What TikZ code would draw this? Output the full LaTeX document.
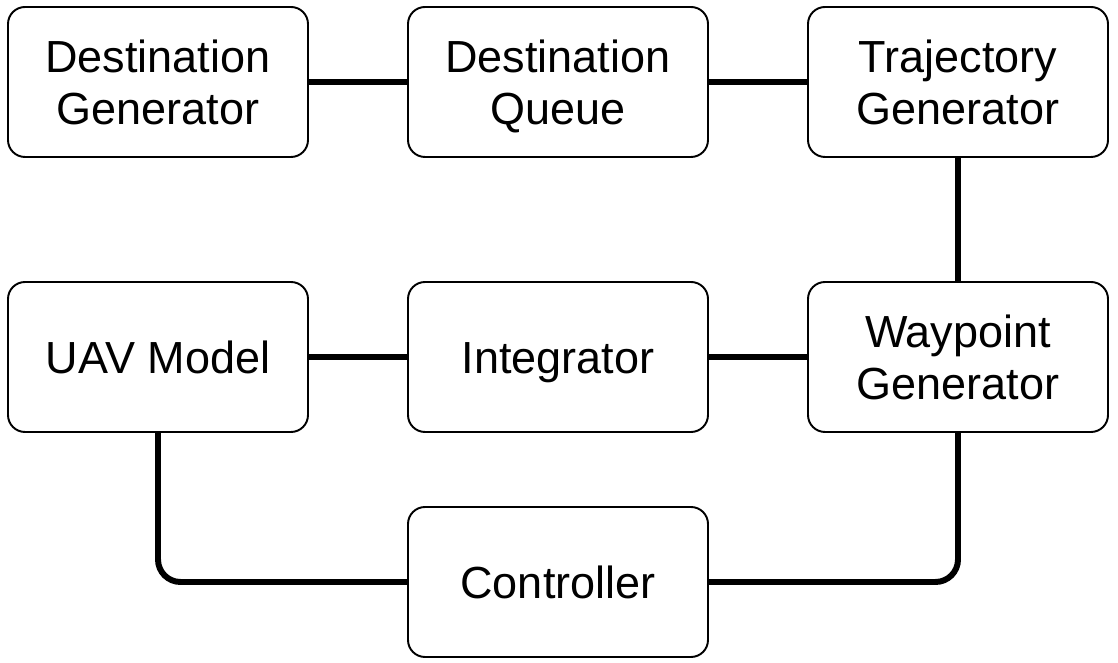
\documentclass[tikz,border=0pt]{standalone}
\usepackage{fontspec}
\setmainfont{Liberation Sans}
\usetikzlibrary{positioning}

\newcommand{\capstrut}{\rule[-5.6pt]{0pt}{29.6pt}}
\newcommand{\twolines}[2]{\capstrut#1\\\capstrut#2}

\tikzset{
  block/.style={draw, line width=1.1pt, rounded corners=0.34cm,
    minimum width=6cm, minimum height=3cm, inner sep=0pt, outer sep=0pt,
    align=center, font=\fontsize{25.6}{29.6}\selectfont},
  link/.style={line width=3.4pt}
}

\begin{document}
\begin{tikzpicture}[node distance=2cm]
  \useasboundingbox (0,0) rectangle (22.36,-13.26);
  % Nodes
	\node[block] (dgen) at (3.16,-1.64) {\twolines{Destination}{Generator}};
	\node[block, right=of dgen] (dqueue) {\twolines{Destination}{Queue}};
	\node[block, right=of dqueue] (tgen) {\twolines{Trajectory}{Generator}};
	\node[block, below=2.5cm of tgen] (wgen) {\twolines{Waypoint}{Generator}};
	\node[block, left=of wgen] (integ) {\capstrut Integrator};
	\node[block, left=of integ] (uav) {\capstrut UAV Model};
	\node[block, below=1.5cm of integ] (ctrl) {\capstrut Controller};

  % Links
	\draw[link] (dgen) -- (dqueue);
	\draw[link] (dqueue) -- (tgen);
	\draw[link] (tgen) -- (wgen);
	\draw[link] (wgen) -- (integ);
	\draw[link] (integ) -- (uav);
	\draw[link, rounded corners=0.45cm] (uav.south) |- (ctrl.west);
	\draw[link, rounded corners=0.45cm] (wgen.south) |- (ctrl.east);
\end{tikzpicture}
\end{document}
